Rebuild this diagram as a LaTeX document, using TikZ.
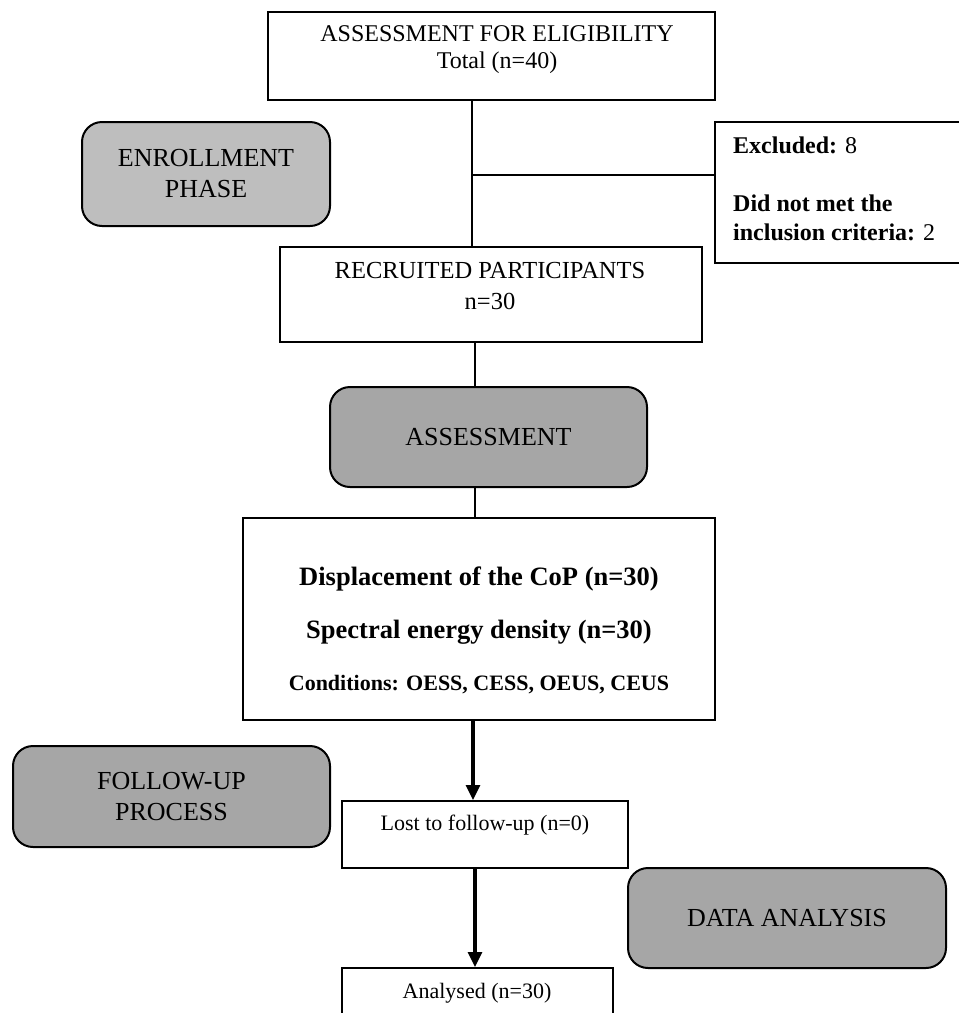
\documentclass[tikz,border=0pt]{standalone}
\usepackage{fontspec}
\setmainfont{Liberation Serif}
\usetikzlibrary{arrows.meta}

\definecolor{phaselight}{HTML}{BEBEBE}
\definecolor{phasedark}{HTML}{A6A6A6}

\tikzset{
  box/.style={draw, line width=2pt, inner sep=0pt},
  phase/.style={draw, line width=2pt, rounded corners=20pt, inner sep=0pt, align=center,
    font=\fontsize{26}{31}\selectfont},
  txt/.style={align=center, inner sep=0pt, font=\fontsize{24}{27}\selectfont},
  link/.style={line width=2pt},
  flow/.style={line width=3.2pt, -{Triangle[width=14pt,length=15pt]}}
}

\begin{document}
\begin{tikzpicture}[x=1pt,y=-1pt]
    \useasboundingbox (0,0) rectangle (959,1013);

    % boxes
    \node[box, minimum width=447pt, minimum height=88pt] (elig) at (491.5,56) {};
    \node[box, minimum width=246pt, minimum height=141pt] (excl) at (838,192.5) {};
    \node[box, minimum width=422pt, minimum height=95pt] (recr) at (491,294.5) {};
    \node[box, minimum width=472pt, minimum height=202pt] (meas) at (479,619) {};
    \node[box, minimum width=286pt, minimum height=67pt] (lost) at (485,834.5) {};
    \node[box, minimum width=271pt, minimum height=70pt] (anal) at (477.5,1003) {};

    % phases
    \node[phase, fill=phaselight, minimum width=248pt, minimum height=104pt] (enroll) at (206,174) {ENROLLMENT\\PHASE};
    \node[phase, fill=phasedark, minimum width=317pt, minimum height=100pt] (assess) at (488.5,437) {ASSESSMENT};
    \node[phase, fill=phasedark, minimum width=317pt, minimum height=101pt] (follow) at (171.5,796.5) {FOLLOW-UP\\PROCESS};
    \node[phase, fill=phasedark, minimum width=318pt, minimum height=100pt] (datan) at (787,918) {DATA ANALYSIS};

    % texts
    \node[txt] (eligtxt) at (497,50) {ASSESSMENT FOR ELIGIBILITY\\Total (n=40)};
    \node[txt, font=\fontsize{24.5}{31}\selectfont] (recrtxt) at (490,286) {RECRUITED PARTICIPANTS\\n=30};
    \node[txt, align=left, anchor=west] (excltxt) at (733,145)
        {\textbf{Excluded:} 8};
    \node[txt, align=left, anchor=west, font=\fontsize{24}{29}\selectfont] (whytxt) at (733,217.5)
        {\textbf{Did not met the}\\\textbf{inclusion criteria:} 2};
    \node[txt, font=\bfseries\fontsize{26.5}{30}\selectfont] (coptxt) at (479,579) {Displacement of the CoP (n=30)};
    \node[txt, font=\bfseries\fontsize{26.5}{30}\selectfont] (sedtxt) at (479,632) {Spectral energy density (n=30)};
    \node[txt, font=\bfseries\fontsize{22}{26}\selectfont] (condtxt) at (479,685) {Conditions: OESS, CESS, OEUS, CEUS};
    \node[txt, font=\fontsize{22}{26}\selectfont] (losttxt) at (485,825) {Lost to follow-up (n=0)};
    \node[txt, font=\fontsize{22}{26}\selectfont] (analtxt) at (477,993) {Analysed (n=30)};

    % connectors
    \coordinate (split) at (472,175);
    \draw[link] (472,0 |- elig.south) -- (472,0 |- recr.north);
    \draw[link] (split) -- (split -| excl.west);
    \draw[link] (475,0 |- recr.south) -- (475,0 |- assess.north);
    \draw[link] (475,0 |- assess.south) -- (475,0 |- meas.north);
    \draw[flow] (473,0 |- meas.south) -- (473,0 |- lost.north);
    \draw[flow] (475,0 |- lost.south) -- (475,0 |- anal.north);
\end{tikzpicture}
\end{document}
